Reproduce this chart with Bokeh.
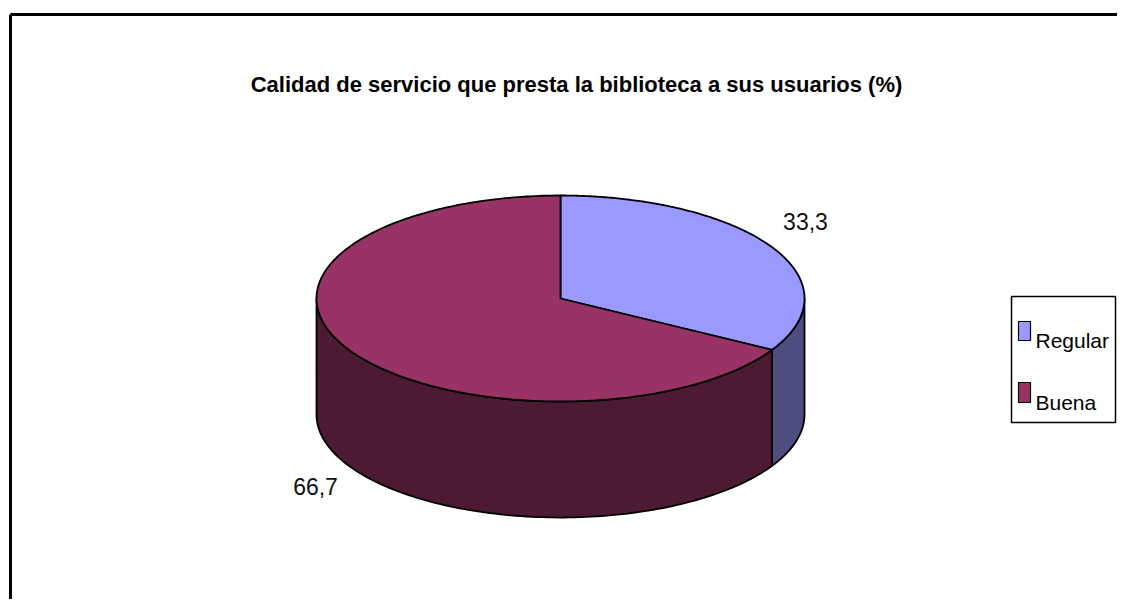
import numpy as np
from bokeh.plotting import figure
from bokeh.models import Range1d
from bokeh.core.properties import value
from bokeh.embed import file_html
from bokeh.resources import INLINE

# ---- data ----
categories = ["Regular", "Buena"]
percentages = [33.3, 66.7]
value_labels = ["33,3", "66,7"]
title_text = "Calidad de servicio que presta la biblioteca a sus usuarios (%)"

top_colors = ["#9999FF", "#993366"]
side_colors = ["#4D4D80", "#4D1A33"]

FONT = "Liberation Sans"

W, H = 1117, 599
p = figure(width=W, height=H, output_backend="svg", toolbar_location=None,
           x_range=Range1d(0, W), y_range=Range1d(H, 0),
           min_border=0, outline_line_color=None, background_fill_color="white",
           border_fill_color="white")
p.axis.visible = False
p.grid.visible = False

# chart frame (top and left edge visible)
p.line(x=[10, 10], y=[14, H + 5], line_color="black", line_width=3)
p.line(x=[10, W + 5], y=[14, 14], line_color="black", line_width=3)

# title
p.text(x=[576], y=[84], text=[title_text], text_font=value(FONT),
       text_font_style="bold", text_font_size="22px", text_align="center",
       text_baseline="alphabetic", text_color="black")

# pie geometry
cx, cy, a, b, depth = 560.0, 298.0, 244.0, 103.0, 116.0

def ell(t_deg, dy=0.0):
    t = np.radians(t_deg)
    return cx + a * np.cos(t), cy - b * np.sin(t) + dy

total = sum(percentages)
starts, ends = [], []
ang = 90.0
for v in percentages:
    sweep = v / total * 360.0
    starts.append(ang)
    ends.append(ang - sweep)
    ang -= sweep

# side faces (front half: t in [-180, 0])
for s, e, col in zip(starts, ends, side_colors):
    for k in (-360, 0, 360):
        lo = max(e + k, -180.0)
        hi = min(s + k, 0.0)
        if hi > lo:
            ts = np.linspace(hi, lo, 120)
            xt, yt = ell(ts)
            xb, yb = ell(ts[::-1], depth)
            xs = list(xt) + list(xb)
            ys = list(yt) + list(yb)
            p.patch(xs, ys, fill_color=col, line_color="black", line_width=1.8,
                    line_join="round")

# top faces
for s, e, col in zip(starts, ends, top_colors):
    ts = np.linspace(s, e, 240)
    xa, ya = ell(ts)
    xs = [cx] + list(xa) + [cx]
    ys = [cy] + list(ya) + [cy]
    p.patch(xs, ys, fill_color=col, line_color="black", line_width=1.8,
            line_join="round")

# value labels
lx, ly = [], []
for s, e in zip(starts, ends):
    m = np.radians((s + e) / 2.0)
    x = cx + a * 1.16 * np.cos(m)
    y = cy - b * 1.5 * np.sin(m)
    if np.sin(m) < 0:
        y = cy - b * 1.4 * np.sin(m) + depth
    lx.append(x)
    ly.append(y)
p.text(x=lx, y=ly, text=value_labels, text_font=value(FONT),
       text_font_size="23px", text_align="center", text_baseline="middle",
       text_color="#111111")

# legend
p.quad(left=[1011], right=[1115], top=[296], bottom=[422], fill_color="white",
       line_color="black", line_width=1.5)
sw_top = [321, 382]
sw_bot = [340, 402]
p.quad(left=[1018] * 2, right=[1030] * 2, top=sw_top, bottom=sw_bot,
       fill_color=top_colors, line_color="black", line_width=1.2)
p.text(x=[1035] * 2, y=sw_bot, text=categories, text_font=value(FONT),
       text_font_size="21px", text_align="left", text_baseline="alphabetic",
       text_color="black")

open("out.html", "w").write(file_html(p, INLINE))
